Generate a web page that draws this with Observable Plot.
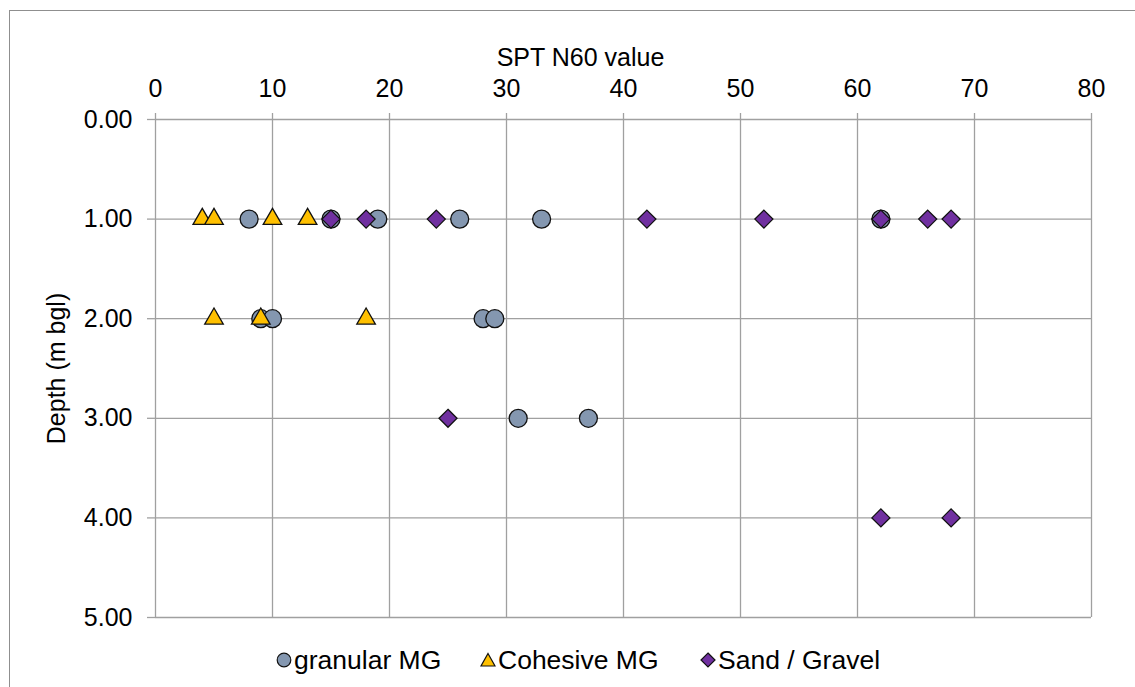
<!DOCTYPE html>
<html>
<head>
<meta charset="utf-8">
<script src="https://cdn.jsdelivr.net/npm/d3@7"></script>
<script src="https://cdn.jsdelivr.net/npm/@observablehq/plot@0.6"></script>
<style>
  html, body { margin: 0; padding: 0; background: #fff; overflow: hidden; width: 1135px; height: 687px; }
  body { position: relative; font-family: "Liberation Sans", Arial, sans-serif; }
  #frame { position: absolute; left: 9px; top: 10px; width: 1200px; height: 800px; border-left: 1.5px solid #8f8f8f; border-top: 1.5px solid #8f8f8f; box-sizing: border-box; pointer-events: none; }
  #chart { position: absolute; left: 0; top: 0; }
  #legend { position: absolute; left: 0; top: 640px; width: 1135px; height: 40px; font-size: 26.5px; color: #000; }
  .item { position: absolute; top: 0; height: 40px; display: flex; align-items: center; white-space: nowrap; }
  .item svg { margin-right: 2px; }
</style>
</head>
<body>
<div id="chart"></div>
<div id="legend"></div>
<div id="frame"></div>
<script>
// SPT N60 values and depths (m bgl) per material
const granularN     = [8, 15, 19, 26, 33, 62, 9, 10, 28, 29, 31, 37];
const granularDepth = [1, 1, 1, 1, 1, 1, 2, 2, 2, 2, 3, 3];
const cohesiveN     = [4, 5, 10, 13, 5, 9, 18];
const cohesiveDepth = [1, 1, 1, 1, 2, 2, 2];
const sandN         = [15, 18, 24, 42, 52, 62, 66, 68, 25, 62, 68];
const sandDepth     = [1, 1, 1, 1, 1, 1, 1, 1, 3, 4, 4];
const seriesNames   = ["granular MG", "Cohesive MG", "Sand / Gravel"];
const seriesColors  = ["#8497B0", "#FFC000", "#7030A0"];
const xTicks = [0, 10, 20, 30, 40, 50, 60, 70, 80];
const yTicks = [0, 1, 2, 3, 4, 5];
const xTitle = "SPT N60 value";
const yTitle = "Depth (m bgl)";

const toRows = (ns, ds) => ns.map((n, i) => ({n, depth: ds[i]}));
const granular = toRows(granularN, granularDepth);
const cohesive = toRows(cohesiveN, cohesiveDepth);
const sand = toRows(sandN, sandDepth);

const gridColor = "#a0a0a0";
const font = "Liberation Sans, Arial, sans-serif";

const plot = Plot.plot({
  width: 1135,
  height: 632,
  marginLeft: 155,
  marginRight: 44,
  marginTop: 119,
  marginBottom: 15,
  style: {fontFamily: font, background: "transparent", overflow: "visible"},
  x: {domain: [0, 80]},
  y: {domain: [0, 5], reverse: true},
  marks: [
    Plot.gridX(xTicks, {stroke: gridColor, strokeOpacity: 1, strokeWidth: 1.3}),
    Plot.gridY(yTicks, {stroke: gridColor, strokeOpacity: 1, strokeWidth: 1.3}),
    Plot.axisX(xTicks, {anchor: "top", tickSize: 7, tickPadding: 16, fontSize: 25, stroke: gridColor, strokeWidth: 1.3, label: null}),
    Plot.axisY(yTicks, {anchor: "left", tickSize: 8, tickPadding: 15, fontSize: 25, stroke: gridColor, strokeWidth: 1.3, tickFormat: d3.format(".2f"), label: null}),
    Plot.text([xTitle], {frameAnchor: "top", dx: -43, dy: -71, fontSize: 25, fill: "black"}),
    Plot.text([yTitle], {frameAnchor: "left", textAnchor: "middle", rotate: -90, dx: -99, fontSize: 25, fill: "black"}),
    Plot.dot(granular, {x: "n", y: "depth", symbol: "circle", r: 9, fill: seriesColors[0], stroke: "#111", strokeWidth: 1.3}),
    Plot.dot(cohesive, {x: "n", y: "depth", symbol: "triangle", r: 6.9, fill: seriesColors[1], stroke: "#111", strokeWidth: 1.3}),
    Plot.dot(sand, {x: "n", y: "depth", symbol: "diamond2", r: 8.1, fill: seriesColors[2], stroke: "#111", strokeWidth: 1.3})
  ]
});
document.getElementById("chart").appendChild(plot);

// legend
const symPaths = [
  '<circle cx="8" cy="8" r="6.8"/>',
  '<path d="M8 1.5 L15 14 L1 14 Z"/>',
  '<path d="M8 1 L15 8 L8 15 L1 8 Z"/>'
];
const lefts = [276, 480, 700];
const legend = document.getElementById("legend");
seriesNames.forEach((name, i) => {
  const div = document.createElement("div");
  div.className = "item";
  div.style.left = lefts[i] + "px";
  div.innerHTML = `<svg width="16" height="16" viewBox="0 0 16 16"><g fill="${seriesColors[i]}" stroke="#111" stroke-width="1.2">${symPaths[i]}</g></svg><span>${name}</span>`;
  legend.appendChild(div);
});
</script>
</body>
</html>
